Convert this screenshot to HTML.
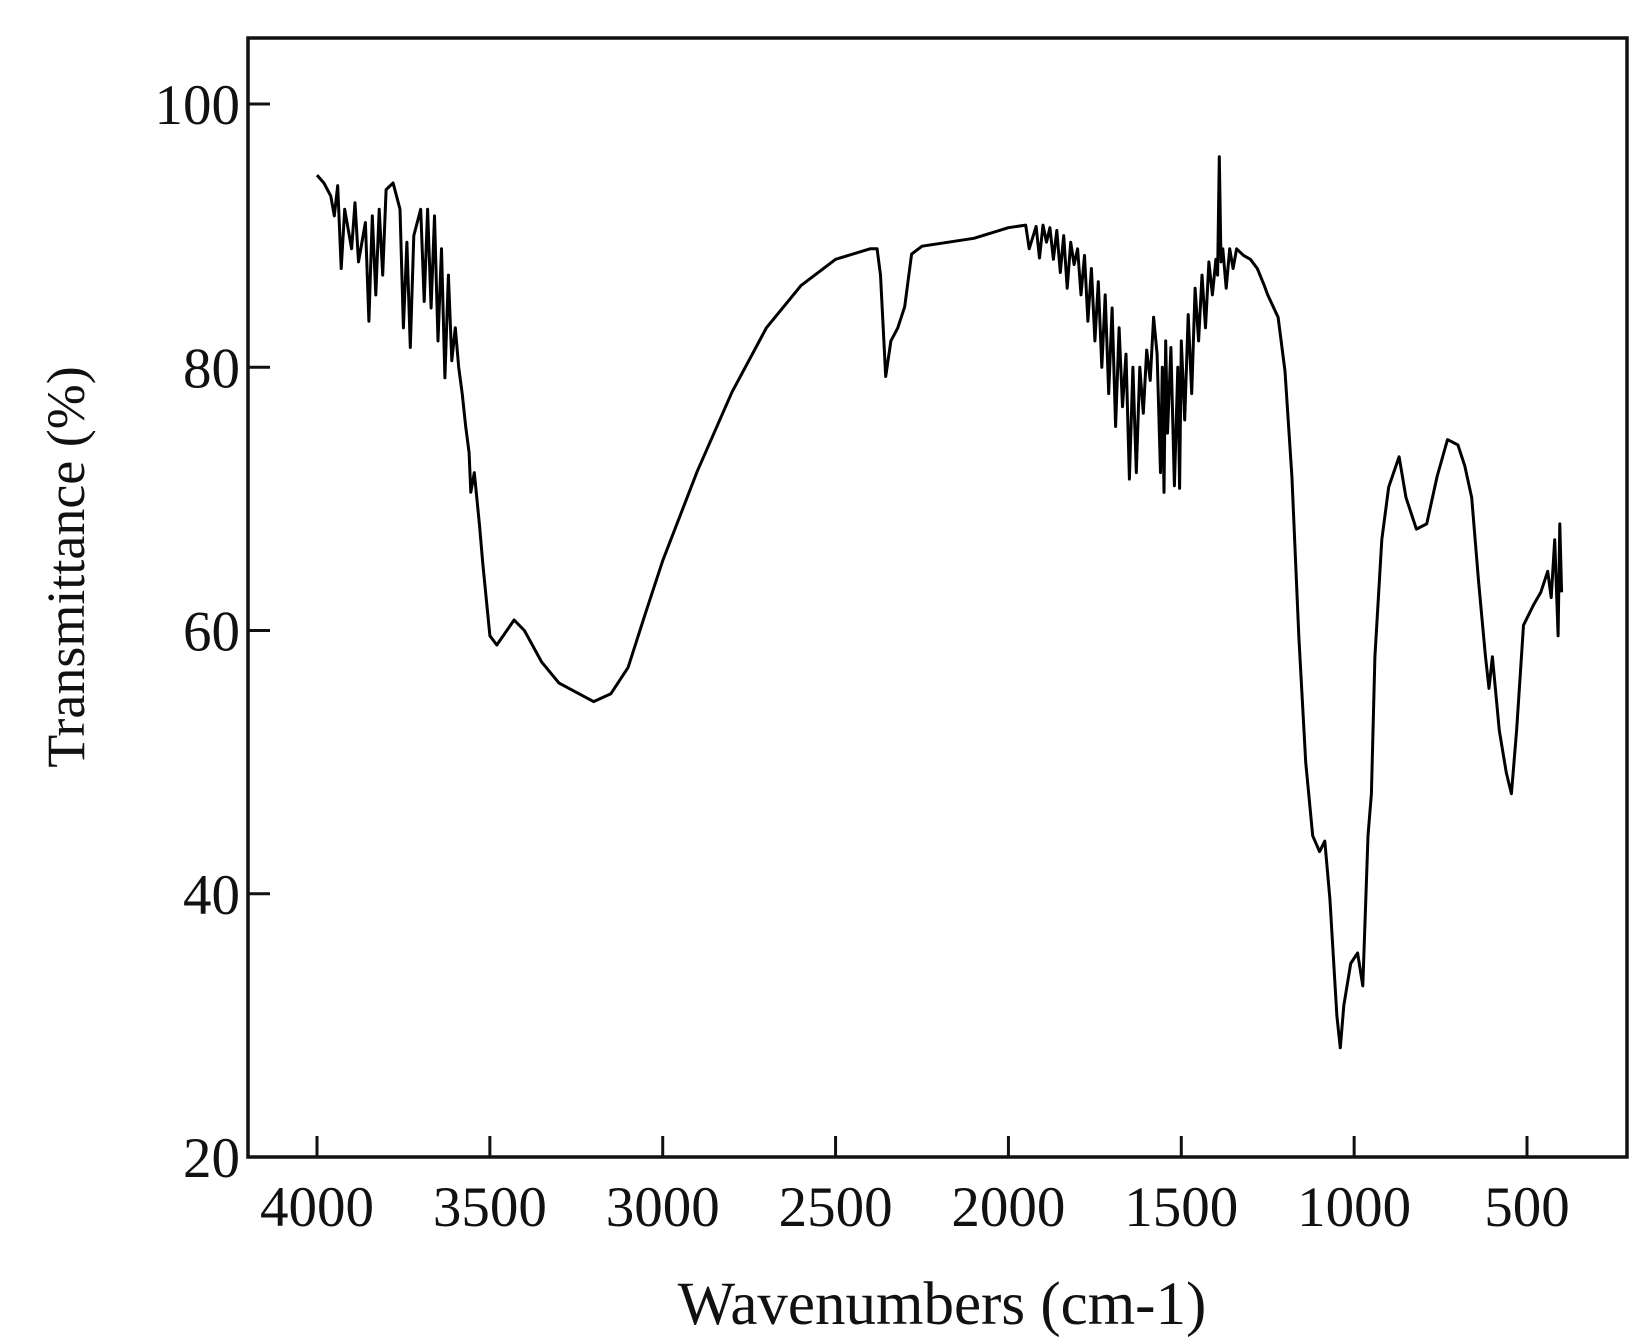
<!DOCTYPE html>
<html><head><meta charset="utf-8"><style>
html,body{margin:0;padding:0;background:#fff;}
svg{display:block;}
text{font-family:"Liberation Serif",serif;fill:#111;}
</style></head><body>
<svg id="chart" width="1652" height="1339" viewBox="0 0 1652 1339">
<rect x="248" y="38" width="1379" height="1119" fill="none" stroke="#111" stroke-width="3.5"/>
<g id="xticks"></g>
<g id="yticks"></g>
<path id="spectrum" fill="none" stroke="#000" stroke-width="3" stroke-linejoin="round"/>
<text x="942" y="1324" font-size="61" text-anchor="middle">Wavenumbers (cm-1)</text>
<text transform="translate(84,567) rotate(-90)" font-size="54" text-anchor="middle" fill="#1a1a2a">Transmittance (%)</text>
</svg>
<script>
const xTickValues = [4000,3500,3000,2500,2000,1500,1000,500];
const yTickValues = [20,40,60,80,100];
const wavenumbers = [4000,3980,3960,3950,3940,3930,3920,3900,3890,3880,3860,3850,3840,3830,3820,3810,3800,3780,3760,3750,3740,3730,3720,3700,3690,3680,3670,3660,3650,3640,3630,3620,3610,3600,3590,3580,3570,3560,3555,3545,3530,3520,3500,3480,3430,3400,3350,3300,3200,3150,3100,3050,3000,2900,2800,2700,2600,2500,2400,2380,2370,2355,2340,2320,2300,2280,2250,2100,2000,1950,1940,1920,1910,1900,1890,1880,1870,1860,1850,1840,1830,1820,1810,1800,1790,1780,1770,1760,1750,1740,1730,1720,1710,1700,1690,1680,1670,1660,1650,1640,1630,1620,1610,1600,1590,1580,1570,1560,1555,1550,1545,1540,1530,1520,1510,1505,1500,1490,1480,1470,1460,1450,1440,1430,1420,1410,1400,1395,1390,1385,1380,1370,1360,1350,1340,1320,1300,1280,1260,1250,1220,1200,1180,1160,1140,1120,1100,1085,1070,1050,1040,1030,1010,990,975,960,950,940,920,900,870,850,820,790,760,730,700,680,660,640,620,610,600,580,560,545,530,510,480,460,440,430,420,410,405,400];
const transmittance = [94.6,94,93,91.5,93.8,87.5,92,89,92.5,88,91,83.5,91.5,85.5,92,87,93.5,94,92,83,89.5,81.5,90,92,85,92,84.5,91.5,82,89,79.2,87,80.5,83,80,78,75.5,73.5,70.5,72,68,65,59.6,58.9,60.8,60,57.6,56,54.6,55.2,57.2,61.3,65.3,72.1,78.1,83,86.2,88.2,89,89,87,79.3,82,83,84.6,88.6,89.2,89.8,90.6,90.8,89,90.7,88.3,90.8,89.5,90.6,88.2,90.4,87.2,90,86,89.5,87.8,89,85.5,88.5,83.5,87.5,82,86.5,80,85.5,78,84.5,75.5,83,77,81,71.5,80,72,80,76.5,81.3,79,83.8,81,72,80,70.5,82,75,81.5,71,80,70.8,82,76,84,78,86,82,87,83,88,85.5,88.2,87,96,88,89,86,89,87.5,89,88.5,88.2,87.5,86.2,85.5,83.8,79.7,71.7,59.6,50,44.4,43.2,44,39.6,30.7,28.3,31.5,34.7,35.5,33,44.4,47.6,58,66.9,70.9,73.2,70.1,67.7,68.1,71.7,74.5,74.1,72.5,70.1,63.7,58,55.6,58,52.4,49.2,47.6,52.4,60.4,62,62.9,64.5,62.5,66.9,59.6,68.1,62.9];

const X0=317, XS=(1527-317)/3500;
const Y0=104, YS=(1157-104)/80;
function xPos(w){return X0+(4000-w)*XS;}
function yPos(t){return Y0+(100-t)*YS;}
const NS='http://www.w3.org/2000/svg';
const xg=document.getElementById('xticks');
xTickValues.forEach(v=>{
  const l=document.createElementNS(NS,'line');
  l.setAttribute('x1',xPos(v));l.setAttribute('x2',xPos(v));
  l.setAttribute('y1',1157);l.setAttribute('y2',1136);
  l.setAttribute('stroke','#111');l.setAttribute('stroke-width','3');
  
  
  xg.appendChild(l);
  const t=document.createElementNS(NS,'text');
  t.setAttribute('x',xPos(v));t.setAttribute('y',1226);
  t.setAttribute('font-size','57');t.setAttribute('text-anchor','middle');
  t.textContent=v;
  
  
  xg.appendChild(t);
});
const yg=document.getElementById('yticks');
yTickValues.forEach(v=>{
  const l=document.createElementNS(NS,'line');
  l.setAttribute('x1',248);l.setAttribute('x2',270);
  l.setAttribute('y1',yPos(v));l.setAttribute('y2',yPos(v));
  l.setAttribute('stroke','#111');l.setAttribute('stroke-width','3');
  
  
  yg.appendChild(l);
  const t=document.createElementNS(NS,'text');
  t.setAttribute('x',240);t.setAttribute('y',yPos(v)+20);
  t.setAttribute('font-size','57');t.setAttribute('text-anchor','end');
  t.textContent=v;
  
  
  yg.appendChild(t);
});
let d='';
wavenumbers.forEach((w,i)=>{d+=(i?'L':'M')+xPos(w).toFixed(1)+' '+yPos(transmittance[i]).toFixed(1);});
document.getElementById('spectrum').setAttribute('d',d);
</script>
</body></html>
